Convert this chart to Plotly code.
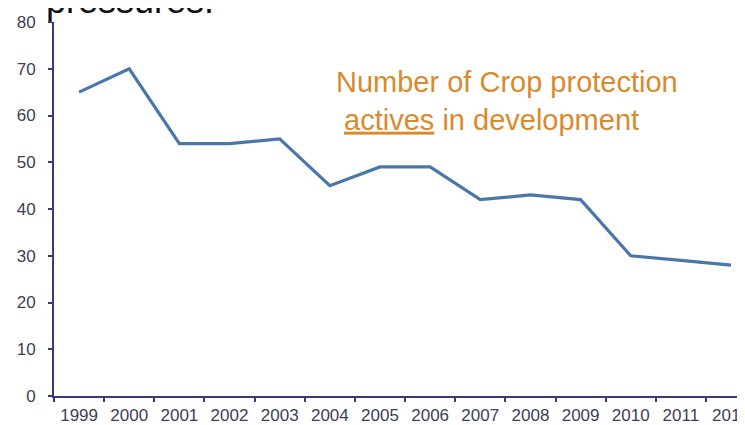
import plotly.graph_objects as go

years = ["1999", "2000", "2001", "2002", "2003", "2004", "2005",
         "2006", "2007", "2008", "2009", "2010", "2011", "2012"]
actives = [65, 70, 54, 54, 55, 45, 49, 49, 42, 43, 42, 30, 29, 28]
y_ticks = [0, 10, 20, 30, 40, 50, 60, 70, 80]

# the page body has an 8px margin; size the figure so it fills the window
OFF = 8
W, H = 745 - OFF, 425 - OFF
# desired page-pixel geometry of the plot area
AX_LEFT, AX_TOP, AX_BOTTOM = 54, 22, 396
ML, MR = AX_LEFT - OFF, 0
MT = AX_TOP - OFF
MB = H - (AX_BOTTOM - OFF)
PW, PH = W - ML - MR, H - MT - MB
CAT_W = 50.15

def px_x(p):
    return (p - AX_LEFT) / PW

def px_y(p):
    return (AX_BOTTOM - p) / PH

x_end = -0.5 + PW / CAT_W

fig = go.Figure()
fig.add_trace(go.Scatter(
    x=years, y=actives, mode="lines",
    line=dict(color="#4a77a9", width=3.2),
    showlegend=False, hoverinfo="skip",
))

axis_color = "#3a3a7c"
tick_font = dict(family="Liberation Sans, Arial, sans-serif", size=17, color="#3e3e56")

fig.update_layout(
    width=W, height=H,
    margin=dict(l=ML, r=MR, t=MT, b=MB, autoexpand=False),
    paper_bgcolor="white", plot_bgcolor="white",
    xaxis=dict(
        type="category", range=[-0.5, x_end],
        showgrid=False, zeroline=False,
        showline=True, linecolor=axis_color, linewidth=2,
        ticks="outside", ticklen=4, tickwidth=2, tickcolor=axis_color,
        tickson="boundaries", tickfont=tick_font, automargin=False,
        ticklabelstandoff=3,
    ),
    yaxis=dict(
        range=[0, 80], tickvals=y_ticks,
        showgrid=False, zeroline=False,
        showline=True, linecolor=axis_color, linewidth=2,
        ticks="outside", ticklen=4, tickwidth=2, tickcolor=axis_color,
        tickfont=tick_font, automargin=False, ticklabelstandoff=9,
    ),
    annotations=[
        dict(text="pressures.", xref="paper", yref="paper",
             x=px_x(44), y=px_y(23), xanchor="left", yanchor="bottom",
             showarrow=False,
             font=dict(family="Liberation Sans, Arial, sans-serif", size=36, color="#111111")),
        dict(text="Number of Crop protection<br>&nbsp;<u>actives</u> in development",
             xref="paper", yref="paper",
             x=px_x(334), y=px_y(64), xanchor="left", yanchor="top", align="left",
             showarrow=False,
             font=dict(family="Liberation Sans, Arial, sans-serif", size=29, color="#d98a2c")),
    ],
)

fig.write_html("out.html")
